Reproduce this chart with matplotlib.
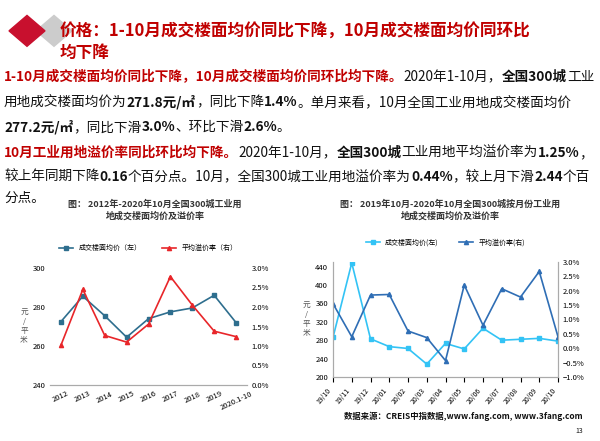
import matplotlib
matplotlib.use("Agg")
import matplotlib.pyplot as plt
from matplotlib.patches import Polygon
from matplotlib.ticker import PercentFormatter

plt.rcParams["font.family"] = "Noto Sans CJK SC"

# left chart: yearly
years = ["2012", "2013", "2014", "2015", "2016", "2017", "2018", "2019", "2020.1-10"]
year_price = [272.5, 285.5, 275.5, 264.5, 274, 277.5, 279.5, 286, 272]
year_premium = [1.02, 2.45, 1.27, 1.10, 1.56, 2.78, 2.05, 1.38, 1.24]

# right chart: monthly
months = ["19/10", "19/11", "19/12", "20/01", "20/02", "20/03", "20/04",
          "20/05", "20/06", "20/07", "20/08", "20/09", "20/10"]
month_price = [286, 448, 283, 266, 262, 228, 273, 261, 306, 280, 282, 284, 278]
month_premium = [1.55, 0.40, 1.85, 1.87, 0.60, 0.37, -0.43, 2.20, 0.80, 2.07, 1.78, 2.67, 0.40]

W, H = 600, 441
fig = plt.figure(figsize=(6, 4.41), dpi=100)
renderer = fig.canvas.get_renderer()

RED = "#c00000"


def runs(x, y, parts, size=9.8):
    # parts: list of (text, bold, color)
    for txt, bold, col in parts:
        t = fig.text(x / W, 1 - y / H, txt, fontsize=size, color=col,
                     fontweight="bold" if bold else "normal", va="center", ha="left")
        x += t.get_window_extent(renderer).width


# header icon
fig.patches.append(Polygon([[0.06, 0.93], [0.09, 0.965], [0.12, 0.93], [0.09, 0.895]],
                           closed=True, transform=fig.transFigure, color="#cccccc", zorder=1))
fig.patches.append(Polygon([[0.015, 0.93], [0.045, 0.965], [0.075, 0.93], [0.045, 0.895]],
                           closed=True, transform=fig.transFigure, color="#c8102e", zorder=2))

runs(60, 32, [("价格：1-10月成交楼面均价同比下降，10月成交楼面均价同环比", True, RED)], size=12)
runs(60, 53, [("均下降", True, RED)], size=12)

K = "#111111"
runs(4, 77, [("1-10月成交楼面均价同比下降，10月成交楼面均价同环比均下降。", True, RED),
             ("2020年1-10月，", False, K), ("全国300城", True, K), ("工业", False, K)])
runs(4, 102, [("用地成交楼面均价为", False, K), ("271.8元/㎡", True, K),
              ("，同比下降", False, K), ("1.4%", True, K),
              ("。单月来看，10月全国工业用地成交楼面均价", False, K)])
runs(4, 127, [("277.2元/㎡", True, K), ("，同比下滑", False, K), ("3.0%", True, K),
              ("、环比下滑", False, K), ("2.6%", True, K), ("。", False, K)])
runs(4, 153, [("10月工业用地溢价率同比环比均下降。", True, RED),
              ("2020年1-10月，", False, K), ("全国300城", True, K),
              ("工业用地平均溢价率为", False, K), ("1.25%", True, K), ("，", False, K)])
runs(4, 177, [("较上年同期下降", False, K), ("0.16", True, K),
              ("个百分点。10月，全国300城工业用地溢价率为", False, K), ("0.44%", True, K),
              ("，较上月下滑", False, K), ("2.44", True, K), ("个百", False, K)])
runs(4, 198, [("分点。", False, K)])

# chart titles
fig.text(155 / W, 1 - 210 / H, "图： 2012年-2020年10月全国300城工业用\n地成交楼面均价及溢价率",
         ha="center", va="center", fontsize=6.5, fontweight="bold", color="#333333", linespacing=1.3)
fig.text(450 / W, 1 - 210 / H, "图： 2019年10月-2020年10月全国300城按月份工业用\n地成交楼面均价及溢价率",
         ha="center", va="center", fontsize=6.5, fontweight="bold", color="#333333", linespacing=1.3)

BLUE = "#2e6e8e"
# left chart
ax1 = fig.add_axes([50 / W, 1 - 385 / H, 197 / W, 117 / H])
x1 = range(len(years))
l1, = ax1.plot(x1, year_price, color=BLUE, marker="s", ms=3, lw=1.2, label="成交楼面均价（左）")
ax1.set_ylim(240, 300)
ax1.set_yticks([240, 260, 280, 300])
ax1.set_xlim(-0.5, len(years) - 0.5)
ax1.set_xticks(list(x1))
ax1.set_xticklabels(years, rotation=25, fontsize=5.5)
ax1.tick_params(axis="y", labelsize=5.5, length=0)
ax1.set_ylabel("元\n/\n平\n米", rotation=0, fontsize=5.5, va="center", labelpad=6, color="#555555")
ax1b = ax1.twinx()
l2, = ax1b.plot(x1, year_premium, color="#e8262a", marker="^", ms=3, lw=1.2, label="平均溢价率（右）")
ax1b.set_ylim(0, 3)
ax1b.set_yticks([0, 0.5, 1, 1.5, 2, 2.5, 3])
ax1b.yaxis.set_major_formatter(PercentFormatter(decimals=1))
ax1b.tick_params(axis="y", labelsize=5.5, length=0)
for a in (ax1, ax1b):
    for s in ("top", "right", "left"):
        a.spines[s].set_visible(False)
    a.spines["bottom"].set_color("#aaaaaa")
ax1.tick_params(axis="x", length=0)
ax1.legend(handles=[l1, l2], loc="lower center", bbox_to_anchor=(0.5, 1.08), ncol=2,
           frameon=False, fontsize=5, columnspacing=3)

# right chart
LB = "#33c3f5"
DB = "#2f6eb5"
ax2 = fig.add_axes([333 / W, 1 - 377 / H, 225 / W, 115 / H])
x2 = range(len(months))
m1, = ax2.plot(x2, month_price, color=LB, marker="s", ms=3.5, lw=1.2, label="成交楼面均价(左)")
ax2.set_ylim(200, 450)
ax2.set_yticks([200, 240, 280, 320, 360, 400, 440])
ax2.set_xlim(0, len(months) - 1)
ax2.set_xticks(list(x2))
ax2.set_xticklabels(months, rotation=50, fontsize=5, ha="right")
ax2.tick_params(axis="y", labelsize=5.5, length=0)
ax2.set_ylabel("元\n/\n平\n米", rotation=0, fontsize=5.5, va="center", labelpad=6, color="#555555")
ax2b = ax2.twinx()
m2, = ax2b.plot(x2, month_premium, color=DB, marker="^", ms=3, lw=1.2, label="平均溢价率(右)")
ax2b.set_ylim(-1, 3)
ax2b.set_yticks([-1, -0.5, 0, 0.5, 1, 1.5, 2, 2.5, 3])
ax2b.yaxis.set_major_formatter(PercentFormatter(decimals=1))
ax2b.tick_params(axis="y", labelsize=5.5, length=0)
for a in (ax2, ax2b):
    a.spines["top"].set_visible(False)
    for s in ("left", "right", "bottom"):
        a.spines[s].set_color("#aaaaaa")
ax2.legend(handles=[m1, m2], loc="lower center", bbox_to_anchor=(0.5, 1.08), ncol=2,
           frameon=False, fontsize=5, columnspacing=3)

fig.text(583 / W, 1 - 416 / H, "数据来源：CREIS中指数据,www.fang.com, www.3fang.com",
         ha="right", va="center", fontsize=6, fontweight="bold", color="#111111")
fig.text(583 / W, 1 - 431 / H, "13", ha="right", va="center", fontsize=5, color="#111111")

fig.savefig("out.png", dpi=100)
